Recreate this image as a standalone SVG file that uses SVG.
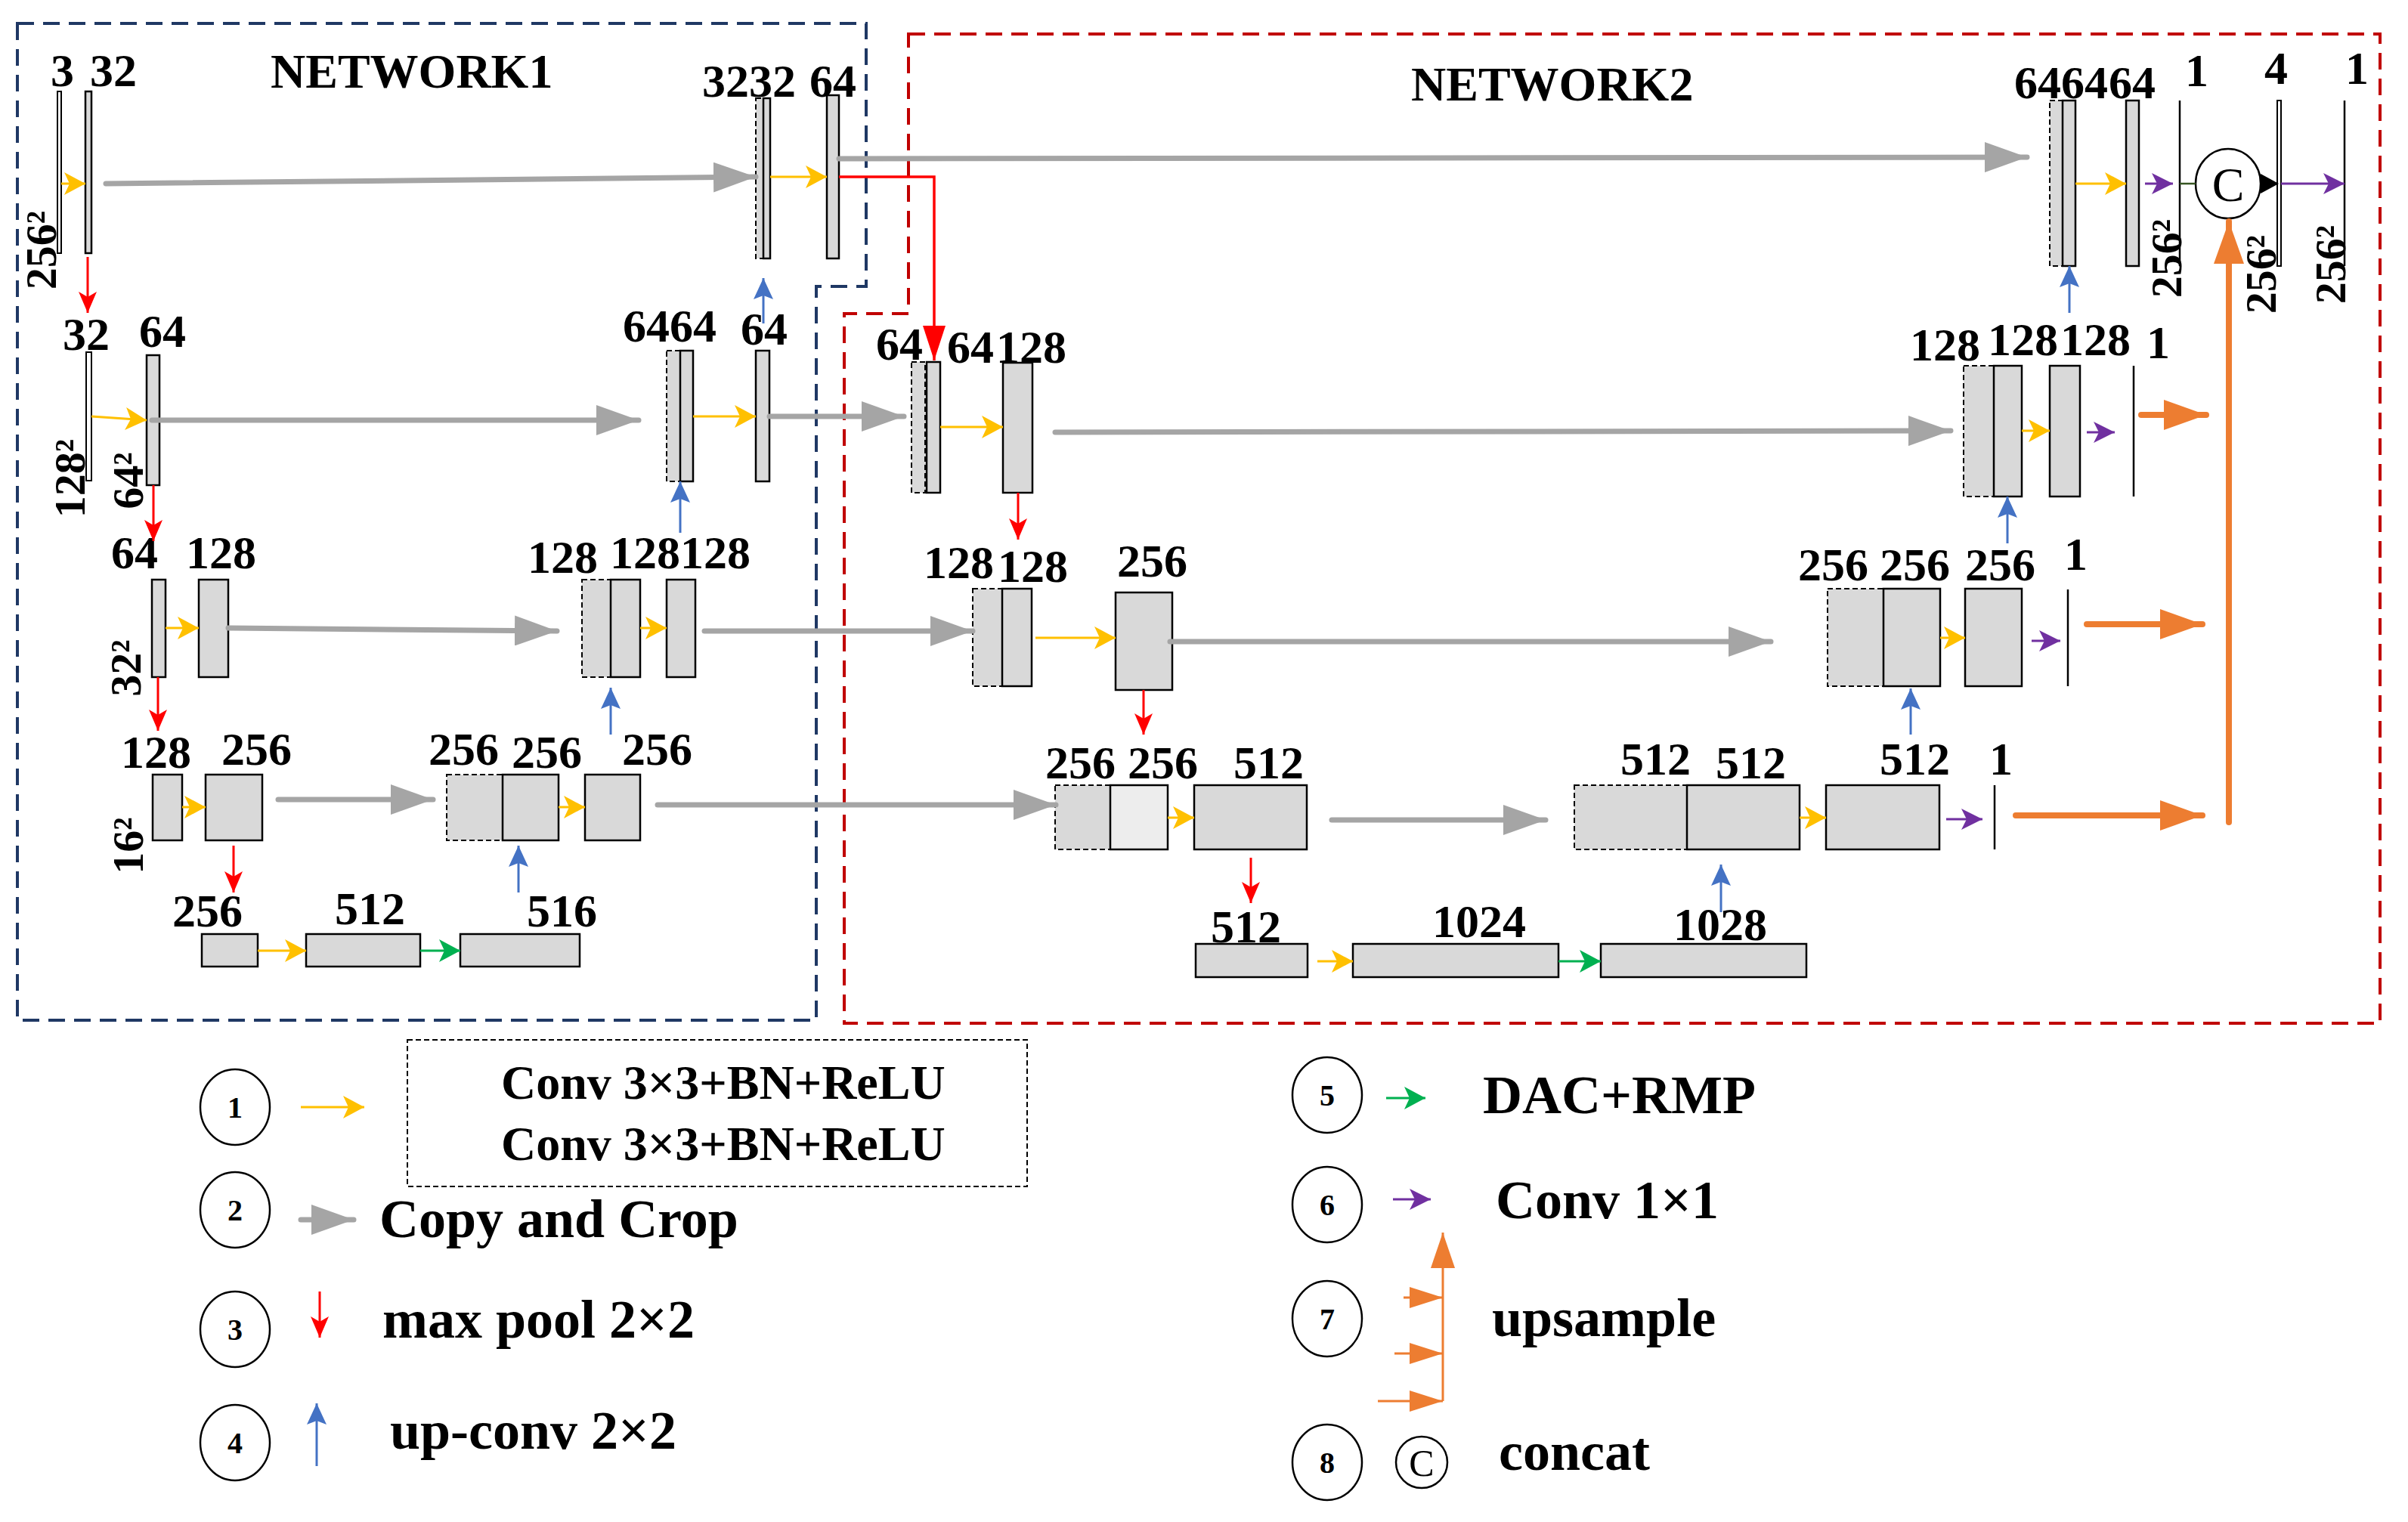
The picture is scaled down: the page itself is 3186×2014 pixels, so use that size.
<svg xmlns="http://www.w3.org/2000/svg" width="3186" height="2014" viewBox="0 0 3186 2014">
<style>
.lbl{font-family:"Liberation Serif","Times New Roman",serif;font-weight:bold;font-size:62px;fill:#000}
.rot{font-family:"Liberation Serif","Times New Roman",serif;font-weight:bold;font-size:58px;fill:#000;text-anchor:middle}
.title{font-family:"Liberation Serif","Times New Roman",serif;font-weight:bold;font-size:64px}
.leg{font-family:"Liberation Serif","Times New Roman",serif;font-weight:bold;font-size:72px}
.num{font-family:"Liberation Serif","Times New Roman",serif;font-weight:bold;font-size:40px;text-anchor:middle}
.box{fill:#D9D9D9;stroke:#000;stroke-width:2.5}
.boxl{fill:#EDEDED;stroke:#000;stroke-width:2.5}
.wbox{fill:#fff;stroke:#000;stroke-width:2}
.dbox{fill:#D9D9D9;stroke:#000;stroke-width:2;stroke-dasharray:7 4}
.vl{stroke:#000;stroke-width:2.5}
.gray{stroke:#A5A5A5;stroke-width:7;stroke-linecap:round;fill:none;marker-end:url(#ahGray)}
.yel{stroke:#FFC000;stroke-width:3;fill:none;marker-end:url(#ahYel)}
.red{stroke:#FF0000;stroke-width:3;fill:none;marker-end:url(#ahRed)}
.blu{stroke:#4472C4;stroke-width:3;fill:none;marker-end:url(#ahBlu)}
.grn{stroke:#00B050;stroke-width:3;fill:none;marker-end:url(#ahGrn)}
.pur{stroke:#7030A0;stroke-width:3;fill:none;marker-end:url(#ahPur)}
.org{stroke:#ED7D31;stroke-width:8;stroke-linecap:round;fill:none}
.orgs{stroke:#ED7D31;stroke-width:3;fill:none;marker-end:url(#ahOrgS)}
.circ{fill:#fff;stroke:#000;stroke-width:2.5}
</style>
<defs>
<marker id="ahGray" markerUnits="userSpaceOnUse" markerWidth="56" markerHeight="40" refX="56" refY="20" orient="auto"><path d="M0,0 L56,20 L0,40 Z" fill="#A5A5A5"/></marker>
<marker id="ahYel" markerUnits="userSpaceOnUse" markerWidth="28" markerHeight="30" refX="28" refY="15" orient="auto"><path d="M0,0 L28,15 L0,30 L7,15 Z" fill="#FFC000"/></marker>
<marker id="ahRed" markerUnits="userSpaceOnUse" markerWidth="28" markerHeight="24" refX="28" refY="12" orient="auto"><path d="M0,0 L28,12 L0,24 L7,12 Z" fill="#FF0000"/></marker>
<marker id="ahRedBig" markerUnits="userSpaceOnUse" markerWidth="46" markerHeight="30" refX="46" refY="15" orient="auto"><path d="M0,0 L46,15 L0,30 Z" fill="#FF0000"/></marker>
<marker id="ahBlu" markerUnits="userSpaceOnUse" markerWidth="28" markerHeight="26" refX="28" refY="13" orient="auto"><path d="M0,0 L28,13 L0,26 L5,13 Z" fill="#4472C4"/></marker>
<marker id="ahGrn" markerUnits="userSpaceOnUse" markerWidth="28" markerHeight="30" refX="28" refY="15" orient="auto"><path d="M0,0 L28,15 L0,30 L7,15 Z" fill="#00B050"/></marker>
<marker id="ahPur" markerUnits="userSpaceOnUse" markerWidth="28" markerHeight="28" refX="28" refY="14" orient="auto"><path d="M0,0 L28,14 L0,28 L7,14 Z" fill="#7030A0"/></marker>
<marker id="ahOrg" markerUnits="userSpaceOnUse" markerWidth="56" markerHeight="40" refX="56" refY="20" orient="auto"><path d="M0,0 L56,20 L0,40 Z" fill="#ED7D31"/></marker>
<marker id="ahOrgS" markerUnits="userSpaceOnUse" markerWidth="44" markerHeight="28" refX="44" refY="14" orient="auto"><path d="M0,0 L44,14 L0,28 Z" fill="#ED7D31"/></marker>
<marker id="ahOrgV" markerUnits="userSpaceOnUse" markerWidth="47" markerHeight="32" refX="47" refY="16" orient="auto"><path d="M0,0 L47,16 L0,32 Z" fill="#ED7D31"/></marker>
</defs>
<rect width="3186" height="2014" fill="#fff"/>

<g id="frames">
<path d="M23,31 H1146 V379 H1080 V1350 H23 Z" fill="none" stroke="#1F3864" stroke-width="4" stroke-dasharray="22 12"/>
<path d="M1202,45 H3149 V1354 H1117 V415 H1202 Z" fill="none" stroke="#C00000" stroke-width="4" stroke-dasharray="22 12"/>
<text class="title" x="358" y="116">NETWORK1</text>
<text class="title" x="1867" y="133">NETWORK2</text>
</g>

<!-- NETWORK1 -->
<g id="n1-in">
<rect class="wbox" x="76" y="121" width="5" height="214"/>
<text class="lbl" x="67" y="114">3</text>
<text class="rot" transform="translate(74,331) rotate(-90)">256²</text>
</g>
<g id="n1-e1">
<rect class="box" x="113" y="121" width="8" height="214"/>
<text class="lbl" x="119" y="114">32</text>
</g>
<g id="n1-d1">
<rect class="dbox" x="1000" y="130" width="10" height="212"/>
<rect class="box" x="1010" y="130" width="9" height="212"/>
<text class="lbl" x="929" y="128">3232</text>
</g>
<g id="n1-d1b">
<rect class="box" x="1094" y="126" width="16" height="216"/>
<text class="lbl" x="1071" y="128">64</text>
</g>
<g id="n1-e2a">
<rect class="wbox" x="114" y="466" width="7" height="170"/>
<text class="lbl" x="83" y="463">32</text>
<text class="rot" transform="translate(112,633) rotate(-90)">128²</text>
</g>
<g id="n1-e2b">
<rect class="box" x="194" y="470" width="17" height="172"/>
<text class="lbl" x="184" y="459">64</text>
<text class="rot" transform="translate(189,636) rotate(-90)">64²</text>
</g>
<g id="n1-d2">
<rect class="dbox" x="882" y="464" width="18" height="173"/>
<rect class="box" x="900" y="464" width="17" height="173"/>
<text class="lbl" x="824" y="452">6464</text>
</g>
<g id="n1-d2b">
<rect class="box" x="1000" y="464" width="18" height="173"/>
<text class="lbl" x="980" y="456">64</text>
</g>
<g id="n1-e3a">
<rect class="box" x="201" y="767" width="18" height="129"/>
<text class="lbl" x="147" y="752">64</text>
<text class="rot" transform="translate(186,884) rotate(-90)">32²</text>
</g>
<g id="n1-e3b">
<rect class="box" x="263" y="767" width="39" height="129"/>
<text class="lbl" x="246" y="752">128</text>
</g>
<g id="n1-d3">
<rect class="dbox" x="770" y="767" width="38" height="129"/>
<rect class="box" x="808" y="767" width="39" height="129"/>
<text class="lbl" x="698" y="758">128</text>
<text class="lbl" x="807" y="752">128</text>
</g>
<g id="n1-d3b">
<rect class="box" x="882" y="767" width="38" height="129"/>
<text class="lbl" x="900" y="752">128</text>
</g>
<g id="n1-e4a">
<rect class="box" x="202" y="1025" width="39" height="87"/>
<text class="lbl" x="160" y="1016">128</text>
<text class="rot" transform="translate(189,1119) rotate(-90)">16²</text>
</g>
<g id="n1-e4b">
<rect class="box" x="272" y="1025" width="75" height="87"/>
<text class="lbl" x="293" y="1012">256</text>
</g>
<g id="n1-d4">
<rect class="dbox" x="591" y="1025" width="74" height="87"/>
<rect class="box" x="665" y="1025" width="74" height="87"/>
<text class="lbl" x="567" y="1012">256</text>
<text class="lbl" x="677" y="1016">256</text>
</g>
<g id="n1-d4b">
<rect class="box" x="774" y="1025" width="73" height="87"/>
<text class="lbl" x="823" y="1012">256</text>
</g>
<g id="n1-b1">
<rect class="box" x="267" y="1236" width="74" height="43"/>
<text class="lbl" x="228" y="1226">256</text>
</g>
<g id="n1-b2">
<rect class="box" x="405" y="1236" width="151" height="43"/>
<text class="lbl" x="443" y="1223">512</text>
</g>
<g id="n1-b3">
<rect class="box" x="609" y="1236" width="158" height="43"/>
<text class="lbl" x="697" y="1226">516</text>
</g>

<!-- NETWORK2 -->
<g id="n2-e2a">
<rect class="dbox" x="1206" y="479" width="18" height="173"/>
<rect class="box" x="1226" y="479" width="18" height="173"/>
<text class="lbl" x="1159" y="476">64</text>
<text class="lbl" x="1253" y="480">64</text>
</g>
<g id="n2-e2b">
<rect class="box" x="1327" y="480" width="39" height="172"/>
<text class="lbl" x="1318" y="480">128</text>
</g>
<g id="n2-e3a">
<rect class="dbox" x="1287" y="779" width="39" height="129"/>
<rect class="box" x="1326" y="779" width="39" height="129"/>
<text class="lbl" x="1222" y="765">128</text>
<text class="lbl" x="1320" y="770">128</text>
</g>
<g id="n2-e3b">
<rect class="box" x="1476" y="784" width="75" height="129"/>
<text class="lbl" x="1478" y="763">256</text>
</g>
<g id="n2-e4a">
<rect class="dbox" x="1396" y="1039" width="73" height="85"/>
<rect class="boxl" x="1469" y="1039" width="76" height="85"/>
<text class="lbl" x="1383" y="1030">256</text>
<text class="lbl" x="1492" y="1030">256</text>
</g>
<g id="n2-e4b">
<rect class="box" x="1580" y="1039" width="149" height="85"/>
<text class="lbl" x="1632" y="1030">512</text>
</g>
<g id="n2-b1">
<rect class="box" x="1582" y="1249" width="148" height="44"/>
<text class="lbl" x="1602" y="1247">512</text>
</g>
<g id="n2-b2">
<rect class="box" x="1790" y="1249" width="272" height="44"/>
<text class="lbl" x="1895" y="1240">1024</text>
</g>
<g id="n2-b3">
<rect class="box" x="2118" y="1249" width="272" height="44"/>
<text class="lbl" x="2214" y="1244">1028</text>
</g>
<g id="n2-d4">
<rect class="dbox" x="2083" y="1039" width="149" height="85"/>
<rect class="box" x="2232" y="1039" width="149" height="85"/>
<text class="lbl" x="2144" y="1025">512</text>
<text class="lbl" x="2270" y="1030">512</text>
</g>
<g id="n2-d4b">
<rect class="box" x="2416" y="1039" width="150" height="85"/>
<text class="lbl" x="2487" y="1025">512</text>
</g>
<g id="n2-o4">
<line class="vl" x1="2639" y1="1039" x2="2639" y2="1124"/>
<text class="lbl" x="2632" y="1025">1</text>
</g>
<g id="n2-d3">
<rect class="dbox" x="2418" y="779" width="74" height="129"/>
<rect class="box" x="2492" y="779" width="75" height="129"/>
<text class="lbl" x="2379" y="768">256</text>
<text class="lbl" x="2487" y="768">256</text>
</g>
<g id="n2-d3b">
<rect class="box" x="2600" y="779" width="75" height="129"/>
<text class="lbl" x="2600" y="768">256</text>
</g>
<g id="n2-o3">
<line class="vl" x1="2736" y1="780" x2="2736" y2="908"/>
<text class="lbl" x="2731" y="754">1</text>
</g>
<g id="n2-d2">
<rect class="dbox" x="2598" y="484" width="40" height="173"/>
<rect class="box" x="2638" y="484" width="37" height="173"/>
<text class="lbl" x="2527" y="477">128</text>
<text class="lbl" x="2630" y="470">128</text>
</g>
<g id="n2-d2b">
<rect class="box" x="2712" y="484" width="40" height="173"/>
<text class="lbl" x="2726" y="470">128</text>
</g>
<g id="n2-o2">
<line class="vl" x1="2823" y1="484" x2="2823" y2="657"/>
<text class="lbl" x="2840" y="474">1</text>
</g>
<g id="n2-d1">
<rect class="dbox" x="2712" y="133" width="17" height="219"/>
<rect class="box" x="2729" y="133" width="17" height="219"/>
<text class="lbl" x="2665" y="130">6464</text>
</g>
<g id="n2-d1b">
<rect class="box" x="2813" y="133" width="17" height="219"/>
<text class="lbl" x="2790" y="130">64</text>
</g>
<g id="n2-o1">
<line class="vl" x1="2884" y1="133" x2="2884" y2="352"/>
<text class="lbl" x="2891" y="114">1</text>
<text class="rot" transform="translate(2886,342) rotate(-90)">256²</text>
</g>
<g id="concat">
<ellipse class="circ" cx="2948" cy="243" rx="43" ry="46"/>
<text x="2948" y="266" text-anchor="middle" font-family="Liberation Serif, Times New Roman, serif" font-size="64">C</text>
</g>
<g id="n2-cat">
<rect class="wbox" x="3013" y="133" width="5" height="219"/>
<text class="lbl" x="2996" y="111">4</text>
<text class="rot" transform="translate(3011,363) rotate(-90)">256²</text>
</g>
<g id="n2-out">
<line class="vl" x1="3102" y1="133" x2="3102" y2="352"/>
<text class="lbl" x="3103" y="111">1</text>
<text class="rot" transform="translate(3103,350) rotate(-90)">256²</text>
</g>

<g id="connectors">
<!-- copy and crop -->
<line class="gray" x1="140" y1="243" x2="1000" y2="234"/>
<line class="gray" x1="201" y1="556" x2="845" y2="556"/>
<line class="gray" x1="1018" y1="551" x2="1196" y2="551"/>
<line class="gray" x1="302" y1="831" x2="737" y2="835"/>
<line class="gray" x1="932" y1="835" x2="1287" y2="835"/>
<line class="gray" x1="368" y1="1058" x2="573" y2="1058"/>
<line class="gray" x1="870" y1="1065" x2="1397" y2="1065"/>
<line class="gray" x1="1110" y1="210" x2="2682" y2="208"/>
<line class="gray" x1="1396" y1="572" x2="2581" y2="570"/>
<line class="gray" x1="1548" y1="849" x2="2343" y2="849"/>
<line class="gray" x1="1762" y1="1085" x2="2045" y2="1085"/>
<!-- conv 3x3 -->
<line class="yel" x1="81" y1="243" x2="113" y2="243"/>
<line class="yel" x1="1019" y1="234" x2="1094" y2="234"/>
<line class="yel" x1="121" y1="551" x2="194" y2="556"/>
<line class="yel" x1="917" y1="551" x2="1000" y2="551"/>
<line class="yel" x1="219" y1="831" x2="263" y2="831"/>
<line class="yel" x1="847" y1="831" x2="882" y2="831"/>
<line class="yel" x1="241" y1="1068" x2="272" y2="1068"/>
<line class="yel" x1="739" y1="1068" x2="774" y2="1068"/>
<line class="yel" x1="341" y1="1258" x2="405" y2="1258"/>
<line class="yel" x1="1244" y1="565" x2="1327" y2="565"/>
<line class="yel" x1="1370" y1="844" x2="1476" y2="844"/>
<line class="yel" x1="1545" y1="1082" x2="1580" y2="1082"/>
<line class="yel" x1="1743" y1="1272" x2="1790" y2="1272"/>
<line class="yel" x1="2381" y1="1082" x2="2416" y2="1082"/>
<line class="yel" x1="2746" y1="243" x2="2813" y2="243"/>
<line class="yel" x1="2675" y1="570" x2="2712" y2="570"/>
<line class="yel" x1="2567" y1="844" x2="2600" y2="844"/>
<!-- max pool -->
<line class="red" x1="116" y1="340" x2="116" y2="414"/>
<line class="red" x1="203" y1="642" x2="203" y2="716"/>
<line class="red" x1="209" y1="896" x2="209" y2="967"/>
<line class="red" x1="309" y1="1119" x2="309" y2="1181"/>
<line class="red" x1="1347" y1="652" x2="1347" y2="714"/>
<line class="red" x1="1513" y1="913" x2="1513" y2="972"/>
<line class="red" x1="1655" y1="1135" x2="1655" y2="1195"/>
<path d="M1110,234 H1236 V477" stroke="#FF0000" stroke-width="3.5" fill="none" marker-end="url(#ahRedBig)"/>
<!-- up-conv -->
<line class="blu" x1="1010" y1="428" x2="1010" y2="368"/>
<line class="blu" x1="900" y1="705" x2="900" y2="637"/>
<line class="blu" x1="808" y1="972" x2="808" y2="910"/>
<line class="blu" x1="686" y1="1181" x2="686" y2="1119"/>
<line class="blu" x1="2738" y1="414" x2="2738" y2="352"/>
<line class="blu" x1="2656" y1="719" x2="2656" y2="657"/>
<line class="blu" x1="2528" y1="972" x2="2528" y2="911"/>
<line class="blu" x1="2277" y1="1207" x2="2277" y2="1144"/>
<!-- DAC+RMP -->
<line class="grn" x1="556" y1="1258" x2="609" y2="1258"/>
<line class="grn" x1="2062" y1="1272" x2="2118" y2="1272"/>
<!-- conv 1x1 -->
<line class="pur" x1="2838" y1="243" x2="2875" y2="243"/>
<line class="pur" x1="3018" y1="243" x2="3102" y2="243"/>
<line class="pur" x1="2761" y1="572" x2="2798" y2="572"/>
<line class="pur" x1="2688" y1="848" x2="2726" y2="848"/>
<line class="pur" x1="2575" y1="1084" x2="2623" y2="1084"/>
<!-- upsample -->
<line class="org" x1="2833" y1="549" x2="2919" y2="549" marker-end="url(#ahOrg)"/>
<line class="org" x1="2761" y1="826" x2="2914" y2="826" marker-end="url(#ahOrg)"/>
<line class="org" x1="2667" y1="1079" x2="2914" y2="1079" marker-end="url(#ahOrg)"/>
<line class="org" x1="2949" y1="1088" x2="2949" y2="293" marker-end="url(#ahOrg)"/>
<!-- concat joins -->
<line x1="2884" y1="243" x2="2905" y2="243" stroke="#375623" stroke-width="2.5"/>
<path d="M2991,230 L3015,243 L2991,256 Z" fill="#000"/>
</g>

<g id="legend">
<g id="leg1">
<ellipse class="circ" cx="311" cy="1465" rx="46" ry="50"/>
<text class="num" x="311" y="1479">1</text>
<line class="yel" x1="398" y1="1465" x2="482" y2="1465"/>
<rect x="539" y="1376" width="820" height="194" fill="none" stroke="#000" stroke-width="2" stroke-dasharray="7 4"/>
<text class="title" x="663" y="1454">Conv 3×3+BN+ReLU</text>
<text class="title" x="663" y="1535">Conv 3×3+BN+ReLU</text>
</g>
<g id="leg2">
<ellipse class="circ" cx="311" cy="1601" rx="46" ry="50"/>
<text class="num" x="311" y="1615">2</text>
<line class="gray" x1="398" y1="1614" x2="468" y2="1614"/>
<text class="leg" x="502" y="1637">Copy and Crop</text>
</g>
<g id="leg3">
<ellipse class="circ" cx="311" cy="1759" rx="46" ry="50"/>
<text class="num" x="311" y="1773">3</text>
<line class="red" x1="423" y1="1709" x2="423" y2="1770"/>
<text class="leg" x="506" y="1770">max pool 2×2</text>
</g>
<g id="leg4">
<ellipse class="circ" cx="311" cy="1909" rx="46" ry="50"/>
<text class="num" x="311" y="1923">4</text>
<line class="blu" x1="419" y1="1940" x2="419" y2="1857"/>
<text class="leg" x="516" y="1917">up-conv 2×2</text>
</g>
<g id="leg5">
<ellipse class="circ" cx="1756" cy="1449" rx="46" ry="50"/>
<text class="num" x="1756" y="1463">5</text>
<line class="grn" x1="1834" y1="1453" x2="1886" y2="1453"/>
<text class="leg" x="1962" y="1473">DAC+RMP</text>
</g>
<g id="leg6">
<ellipse class="circ" cx="1756" cy="1594" rx="46" ry="50"/>
<text class="num" x="1756" y="1608">6</text>
<line class="pur" x1="1843" y1="1587" x2="1893" y2="1587"/>
<text class="leg" x="1979" y="1612">Conv 1×1</text>
</g>
<g id="leg7">
<ellipse class="circ" cx="1756" cy="1745" rx="46" ry="50"/>
<text class="num" x="1756" y="1759">7</text>
<line x1="1909" y1="1854" x2="1909" y2="1631" stroke="#ED7D31" stroke-width="3" marker-end="url(#ahOrgV)"/>
<line class="orgs" x1="1857" y1="1717" x2="1909" y2="1717"/>
<line class="orgs" x1="1845" y1="1791" x2="1909" y2="1791"/>
<line class="orgs" x1="1823" y1="1854" x2="1909" y2="1854"/>
<text class="leg" x="1974" y="1768">upsample</text>
</g>
<g id="leg8">
<ellipse class="circ" cx="1756" cy="1935" rx="46" ry="50"/>
<text class="num" x="1756" y="1949">8</text>
<circle class="circ" cx="1881" cy="1935" r="34" stroke-width="2"/>
<text x="1881" y="1953" text-anchor="middle" font-family="Liberation Serif, Times New Roman, serif" font-size="50">C</text>
<text class="leg" x="1983" y="1945">concat</text>
</g>
</g>
</svg>
